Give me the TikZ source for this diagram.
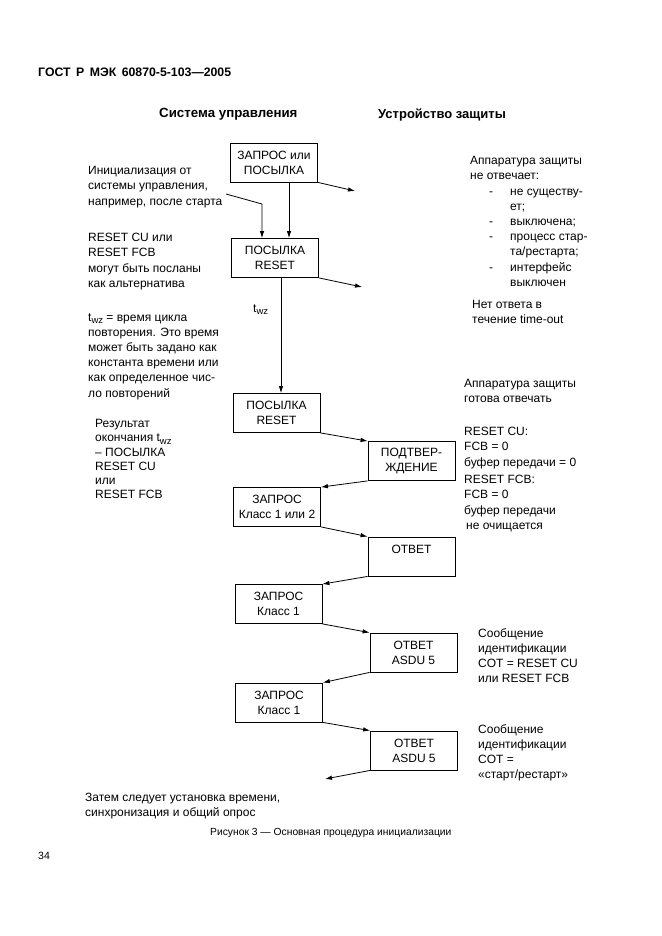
\documentclass[tikz,border=0pt]{standalone}
\usepackage{fontspec}
\setmainfont{Liberation Sans}
\usetikzlibrary{arrows.meta}
\newcommand{\fs}{\fontsize{12}{15.2}\selectfont}
\newcommand{\twz}{t\raisebox{-2.5pt}{\fontsize{9.5}{10}\selectfont wz}}
\newcommand{\bl}[1]{\hspace*{19pt}\makebox[21pt][l]{-}#1}
\newcommand{\bc}[1]{\hspace*{40pt}#1}
\begin{document}
\begin{tikzpicture}[x=1pt,y=-1pt,
  box/.style={draw, line width=0.8pt, minimum width=87pt, minimum height=39pt, align=center, inner sep=0pt, font=\fs},
  lbl/.style={anchor=north west, yshift=8.8pt, align=left, inner sep=0pt, font=\fs},
  conn/.style={-{Latex[length=7pt,width=4.5pt]}, line width=0.8pt}]
\useasboundingbox (0,0) rectangle (661,936);
\fill[white] (0,0) rectangle (661,936);
% header
\node[lbl, font=\fontsize{12.3}{14}\selectfont\bfseries] (hdr) at (38,77) {ГОСТ\, Р\, МЭК\, 60870-5-103—2005};
\node[lbl, font=\fontsize{13.3}{15}\selectfont\bfseries] (hl) at (159,117) {Система управления};
\node[lbl, font=\fontsize{13}{15}\selectfont\bfseries] (hr) at (378,117) {Устройство защиты};
% boxes
\node[box] (b1) at (274,162.5) {ЗАПРОС или\\ПОСЫЛКА};
\node[box] (b2) at (275,258) {ПОСЫЛКА\\RESET};
\node[box] (b3) at (276.5,413) {ПОСЫЛКА\\RESET};
\node[box] (b4) at (411.5,461) {ПОДТВЕР-\\ЖДЕНИЕ};
\node[box] (b5) at (277,507) {ЗАПРОС\\Класс 1 или 2};
\node[box] (b6) at (411.5,556.5) {ОТВЕТ\\\phantom{Ж}};
\node[box] (b7) at (278.5,604) {ЗАПРОС\\Класс 1};
\node[box] (b8) at (413.5,652.5) {ОТВЕТ\\ASDU 5};
\node[box] (b9) at (279,702.5) {ЗАПРОС\\Класс 1};
\node[box] (b10) at (414,750.5) {ОТВЕТ\\ASDU 5};
% left texts
\node[lbl] (l1) at (88,175) {Инициализация от\\системы управления,\\например, после старта};
\node[lbl] (l2) at (88,242) {RESET CU или\\RESET FCB\\могут быть посланы\\как альтернатива};
\node[lbl] (l3) at (88,322) {\twz{} = время цикла\\повторения. Это время\\может быть задано как\\константа времени или\\как определенное чис-\\ло повторений};
\node[lbl, font=\fontsize{12}{14.2}\selectfont] (l4) at (95,428) {Результат\\окончания \twz\\– ПОСЫЛКА\\RESET CU\\или\\RESET FCB};
\node[anchor=base west, inner sep=0pt, font=\fs] (tw) at (253,312) {\twz};
% right texts
\node[lbl] (r1) at (470,165) {Аппаратура защиты\\не отвечает:\\\bl{не существу-}\\\bc{ет;}\\\bl{выключена;}\\\bl{процесс стар-}\\\bc{та/рестарта;}\\\bl{интерфейс}\\\bc{выключен}};
\node[lbl] (r2) at (472,309) {Нет ответа в\\течение time-out};
\node[lbl] (r3) at (464,388) {Аппаратура защиты\\готова отвечать};
\node[lbl] (r4) at (464,436) {RESET CU:\\FCB = 0\\буфер передачи = 0};
\node[lbl] (r5) at (464,484) {RESET FCB:\\FCB = 0\\буфер передачи\\\hspace*{2pt}не очищается};
\node[lbl] (r6) at (478,637) {Сообщение\\идентификации\\COT = RESET CU\\или RESET FCB};
\node[lbl] (r7) at (478,733) {Сообщение\\идентификации\\COT =\\«старт/рестарт»};
% bottom
\node[lbl] (bt) at (85,802) {Затем следует установка времени,\\синхронизация и общий опрос};
\node[lbl, font=\fontsize{10.3}{12}\selectfont] (cap) at (210,837) {Рисунок 3 — Основная процедура инициализации};
\node[lbl, font=\fontsize{10.5}{12}\selectfont] (pg) at (38,861) {34};
% coordinates
\coordinate (ini) at (226,194);
\coordinate (ini2) at (262,204);
\coordinate (e1) at (355,191);
\coordinate (e2) at (362,287);
\coordinate (e3) at (325,779);
% connectors
\draw[conn] ([xshift=15pt]b1.south) -- ([xshift=15pt]b1.south |- b2.north);
\draw[conn] (ini) -- (ini2) -- (ini2 |- b2.north);
\draw[conn] (b1.south east) -- (e1);
\draw[conn] (b2.south east) -- (e2);
\draw[conn] ([xshift=6pt]b2.south) -- ([xshift=6pt]b2.south |- b3.north);
\draw[conn] (b3.south east) -- (b4.north west);
\draw[conn] (b4.south west) -- (b5.north east);
\draw[conn] (b5.south east) -- (b6.north west);
\draw[conn] (b6.south west) -- (b7.north east);
\draw[conn] (b7.south east) -- (b8.north west);
\draw[conn] (b8.south west) -- (b9.north east);
\draw[conn] (b9.south east) -- (b10.north west);
\draw[conn] (b10.south west) -- (e3);
\end{tikzpicture}
\end{document}
